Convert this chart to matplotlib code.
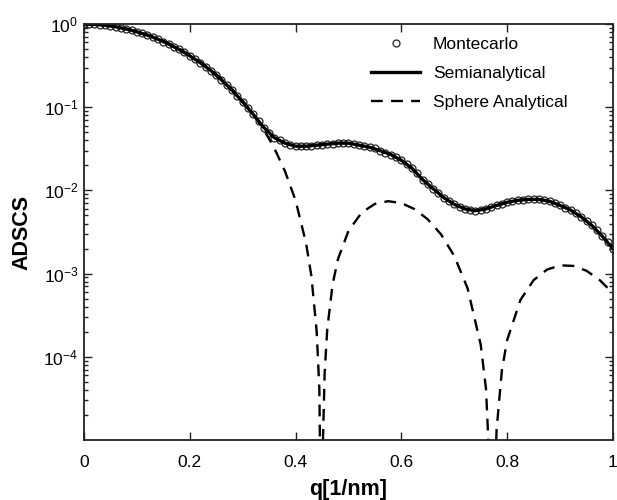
import numpy as np
import matplotlib
matplotlib.use('Agg')
import matplotlib.pyplot as plt
from matplotlib.ticker import FixedLocator, LogLocator, NullFormatter

plt.rcParams['font.family'] = ['Liberation Sans', 'DejaVu Sans']
plt.rcParams['mathtext.fontset'] = 'custom'
plt.rcParams['mathtext.rm'] = 'Liberation Sans'
plt.rcParams['mathtext.it'] = 'Liberation Sans:italic'
plt.rcParams['mathtext.bf'] = 'Liberation Sans:bold'

# Montecarlo points (q step 0.01)
q_mc = [i / 100 for i in range(101)]
adscs_mc = [1.000, 0.998, 0.991, 0.980, 0.966, 0.947, 0.926, 0.899, 0.871, 0.839,
            0.806, 0.771, 0.734, 0.696, 0.656, 0.616, 0.575, 0.536, 0.494, 0.455,
            0.415, 0.378, 0.342, 0.307, 0.275, 0.243, 0.213, 0.186, 0.160, 0.137,
            0.116, 0.098, 0.082, 0.068, 0.057, 0.049, 0.043, 0.040, 0.037, 0.035,
            0.034, 0.034, 0.034, 0.034, 0.035, 0.035, 0.036, 0.036, 0.037, 0.037,
            0.037, 0.036, 0.035, 0.034, 0.033, 0.032, 0.030, 0.028, 0.027, 0.025,
            0.023, 0.021, 0.0185, 0.016, 0.0135, 0.012, 0.0105, 0.0093, 0.0082, 0.0074,
            0.0068, 0.0063, 0.0060, 0.0058, 0.0057, 0.0058, 0.0060, 0.0063, 0.0066, 0.0069,
            0.0072, 0.0074, 0.0076, 0.0077, 0.0078, 0.0078, 0.0078, 0.0076, 0.0074, 0.0070,
            0.0066, 0.0062, 0.0058, 0.0053, 0.0048, 0.0043, 0.0038, 0.0033, 0.0028, 0.0024,
            0.0020]

# Semianalytical curve (q step 0.02)
q_semi = [i / 50 for i in range(51)]
adscs_semi = [1.000, 0.991, 0.966, 0.926, 0.871, 0.806, 0.734, 0.656, 0.575, 0.494,
              0.415, 0.342, 0.275, 0.213, 0.160, 0.116, 0.082, 0.057, 0.043, 0.037,
              0.034, 0.034, 0.035, 0.036, 0.037, 0.037, 0.035, 0.033, 0.030, 0.027,
              0.023, 0.0185, 0.0135, 0.0105, 0.0082, 0.0068, 0.0060, 0.0057, 0.0060, 0.0066,
              0.0072, 0.0076, 0.0078, 0.0078, 0.0074, 0.0066, 0.0058, 0.0048, 0.0038, 0.0028,
              0.0020]

# Sphere analytical curve
q_sph = [0.0, 0.02, 0.04, 0.06, 0.08, 0.10, 0.12, 0.14, 0.16, 0.18,
         0.20, 0.22, 0.24, 0.26, 0.28, 0.30, 0.32, 0.34, 0.36, 0.38,
         0.40, 0.42, 0.43, 0.44, 0.445, 0.449, 0.451, 0.455, 0.46, 0.47,
         0.48, 0.50, 0.525, 0.55, 0.575, 0.60, 0.625, 0.65, 0.675, 0.70,
         0.725, 0.75, 0.76, 0.77, 0.7725, 0.775, 0.78, 0.79, 0.80, 0.825,
         0.85, 0.875, 0.90, 0.925, 0.95, 0.975, 1.0]
adscs_sph = [1.0, 0.992, 0.968, 0.930, 0.879, 0.816, 0.745, 0.668, 0.587, 0.506,
             0.427, 0.351, 0.282, 0.219, 0.165, 0.119, 0.082, 0.054, 0.032, 0.017,
             0.0076, 0.0023, 9.3e-4, 2.0e-4, 4.1e-5, 2e-7, 6e-6, 6.4e-5, 2.17e-4, 7.4e-4,
             1.48e-3, 3.26e-3, 5.41e-3, 6.89e-3, 7.42e-3, 7.04e-3, 5.95e-3, 4.49e-3, 2.96e-3, 1.63e-3,
             6.7e-4, 1.40e-4, 4.1e-5, 1.6e-6, 1e-8, 1.5e-6, 1.33e-5, 6.9e-5, 1.59e-4, 4.81e-4,
             8.35e-4, 1.115e-3, 1.256e-3, 1.238e-3, 1.081e-3, 8.34e-4, 5.8e-4]

xticks = [0, 0.2, 0.4, 0.6, 0.8, 1]
xticklabels = ['0', '0.2', '0.4', '0.6', '0.8', '1']
yticks = [1e0, 1e-1, 1e-2, 1e-3, 1e-4]
yticklabels = [r'$10^{0}$', r'$10^{-1}$', r'$10^{-2}$', r'$10^{-3}$', r'$10^{-4}$']

fig = plt.figure(figsize=(6.17, 5.0), dpi=100)
ax = fig.add_axes([0.136, 0.12, 0.8575, 0.832])

ax.plot(q_mc, adscs_mc, 'o', color='#222222', markerfacecolor='none',
        markersize=5.0, markeredgewidth=0.9, label='Montecarlo')
ax.plot(q_semi, adscs_semi, '-', color='black', linewidth=2.4, label='Semianalytical')
ax.plot(q_sph, adscs_sph, '--', color='black', linewidth=1.7, dashes=(5, 3.5),
        label='Sphere Analytical')

ax.set_yscale('log')
ax.set_xlim(0, 1)
ax.set_ylim(1e-5, 1)

ax.xaxis.set_major_locator(FixedLocator(xticks))
ax.set_xticklabels(xticklabels)
ax.yaxis.set_major_locator(FixedLocator(yticks))
ax.set_yticklabels(yticklabels)
ax.yaxis.set_minor_locator(LogLocator(base=10, subs=np.arange(2, 10), numticks=20))
ax.yaxis.set_minor_formatter(NullFormatter())

ax.tick_params(which='both', direction='in', top=True, right=True, labelsize=12.5,
               width=1.0, color='#222222')
ax.tick_params(which='major', length=6)
ax.tick_params(which='minor', length=3)
ax.tick_params(axis='x', pad=11)
ax.tick_params(axis='y', pad=4)
for sp in ax.spines.values():
    sp.set_linewidth(1.3)
    sp.set_color('#222222')

ax.set_xlabel('q[1/nm]', fontsize=15.5, fontweight='bold', labelpad=6)
ax.set_ylabel('ADSCS', fontsize=15.5, fontweight='bold', labelpad=8)

ax.legend(loc='upper left', bbox_to_anchor=(0.514, 1.006), frameon=False,
          fontsize=12.5, handlelength=2.8, labelspacing=0.8, handletextpad=0.75)

fig.savefig('out.png', dpi=100)
